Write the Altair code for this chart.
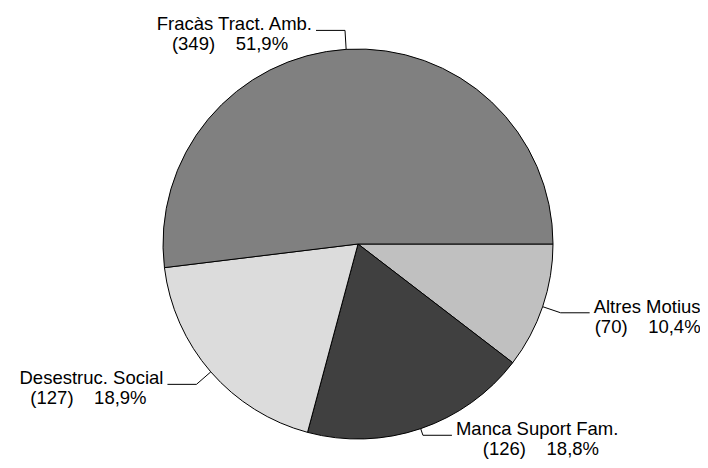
import math
import altair as alt
import pandas as pd

# ---- data (clockwise from 3 o'clock) ----
labels = ["Altres Motius", "Manca Suport Fam.", "Desestruc. Social", "Fracàs Tract. Amb."]
counts = [70, 126, 127, 349]
pcts = ["10,4%", "18,8%", "18,9%", "51,9%"]
colors = ["#c0c0c0", "#404040", "#dcdcdc", "#808080"]

# ---- layout (style) ----
W, H = 708, 468
CX, CY = 358, 244
R = 195
r_out = [214, 202, 214, 214]
HLEN = 29
GAP = 4
half_w = [54, 85, 75, 82]
LINE_GAP = 20
FONT = "Liberation Sans"
FS = 18.5

total = sum(counts)
pie = pd.DataFrame({"label": labels, "count": counts, "idx": list(range(len(labels)))})

line_rows, text_rows = [], []
cum = 0
for i, (lab, c, p) in enumerate(zip(labels, counts, pcts)):
    a = 2 * math.pi * (cum + c / 2) / total
    cum += c
    x0, y0 = CX + R * math.cos(a), CY + R * math.sin(a)
    x1, y1 = CX + r_out[i] * math.cos(a), CY + r_out[i] * math.sin(a)
    side = 1 if math.cos(a) >= 0 else -1
    x2 = x1 + side * HLEN
    for k, (xx, yy) in enumerate([(x0, y0), (x1, y1), (x2, y1)]):
        line_rows.append({"label": lab, "k": k, "x": xx, "y": yy})
    text_rows.append({
        "label": lab,
        "line2": f"({c})\u00a0\u00a0\u00a0 {p}",
        "side": "right" if side > 0 else "left",
        "tx": x2 + side * GAP,
        "cx": x2 + side * (GAP + half_w[i]),
        "y1": y1,
        "y2": y1 + LINE_GAP,
    })

lines = pd.DataFrame(line_rows)
texts = pd.DataFrame(text_rows)

arc = alt.Chart(pie).mark_arc(outerRadius=R, stroke="black", strokeWidth=1).encode(
    theta=alt.Theta("count:Q", stack=True,
                    scale=alt.Scale(range=[math.pi / 2, math.pi / 2 + 2 * math.pi])),
    order=alt.Order("idx:Q"),
    color=alt.Color("label:N", scale=alt.Scale(domain=labels, range=colors), legend=None),
    x=alt.value(CX),
    y=alt.value(CY),
)

leaders = alt.Chart(lines).mark_line(color="black", strokeWidth=1).encode(
    x=alt.X("x:Q", scale=None, axis=None),
    y=alt.Y("y:Q", scale=None, axis=None),
    detail="label:N",
    order="k:Q",
)

base_t = alt.Chart(texts)
t_right = base_t.transform_filter(alt.datum.side == "right").mark_text(
    align="left", baseline="alphabetic", font=FONT, fontSize=FS, color="black"
).encode(x=alt.X("tx:Q", scale=None), y=alt.Y("y1:Q", scale=None), text="label:N")
t_left = base_t.transform_filter(alt.datum.side == "left").mark_text(
    align="right", baseline="alphabetic", font=FONT, fontSize=FS, color="black"
).encode(x=alt.X("tx:Q", scale=None), y=alt.Y("y1:Q", scale=None), text="label:N")
t_two = base_t.mark_text(
    align="center", baseline="alphabetic", font=FONT, fontSize=FS, color="black"
).encode(x=alt.X("cx:Q", scale=None), y=alt.Y("y2:Q", scale=None), text="line2:N")

chart = alt.layer(arc, leaders, t_right, t_left, t_two).properties(
    width=W, height=H, autosize=alt.AutoSizeParams(type="none"),
    padding={"left": -8, "top": -8, "right": -8, "bottom": 0},
).configure(background="white").configure_view(stroke=None)

chart.save("out.html", embed_options={"renderer": "svg", "actions": False})
